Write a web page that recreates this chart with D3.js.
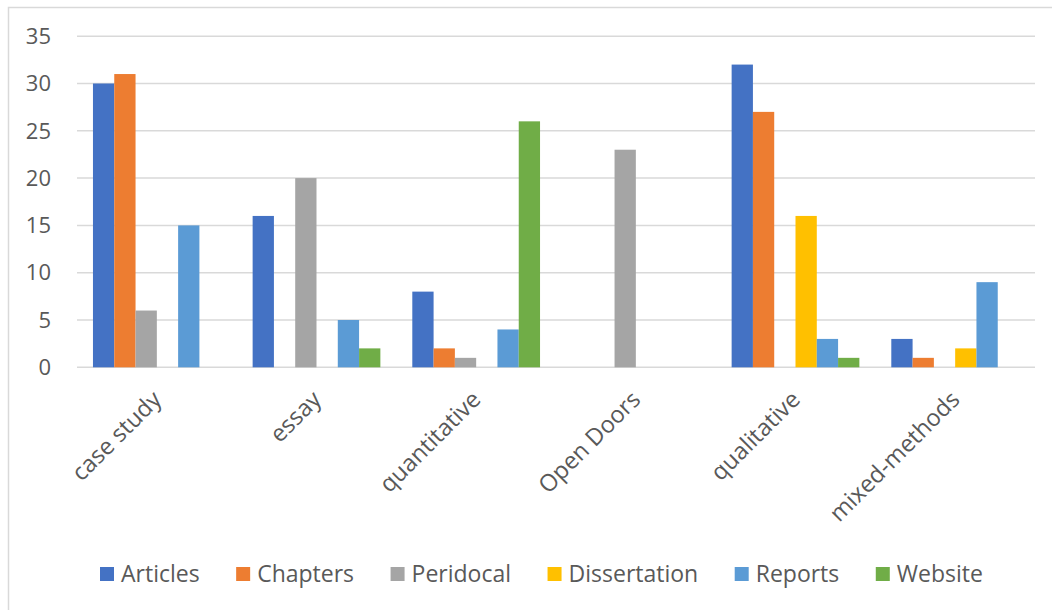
<!DOCTYPE html>
<html>
<head>
<meta charset="utf-8">
<title>Sources by method</title>
<style>
  body { margin: 0; background: #fff; }
  text { font-family: "Open Sans", "Noto Sans", sans-serif; fill: #595959; }
</style>
</head>
<body>
<main></main>
<script src="https://cdn.jsdelivr.net/npm/d3@7"></script>
<script>
    // data
    var categories = ["case study", "essay", "quantitative", "Open Doors", "qualitative", "mixed-methods"];
    var seriesNames = ["Articles", "Chapters", "Peridocal", "Dissertation", "Reports", "Website"];
    var seriesColors = ["#4472C4", "#ED7D31", "#A5A5A5", "#FFC000", "#5B9BD5", "#70AD47"];
    var articles     = [30, 16, 8, 0, 32, 3];
    var chapters     = [31, 0, 2, 0, 27, 1];
    var peridocal    = [6, 20, 1, 23, 0, 0];
    var dissertation = [0, 0, 0, 0, 16, 2];
    var reports      = [15, 5, 4, 0, 3, 9];
    var website      = [0, 2, 26, 0, 1, 0];
    var yTicks = [0, 5, 10, 15, 20, 25, 30, 35];

    var seriesValues = [articles, chapters, peridocal, dissertation, reports, website];

    var width = 1052, height = 610;
    var svg = d3.select("main").append("svg")
        .attr("width", width).attr("height", height);

    // chart border (only left and top show)
    svg.append("path")
        .attr("d", "M8.5,610V7.5H1052")
        .attr("fill", "none")
        .attr("stroke", "#d9d9d9")
        .attr("stroke-width", 1.5);

    var plotLeft = 77, plotRight = 1035, plotTop = 36.2, plotBottom = 367.3;

    var y = d3.scaleLinear().domain([0, 35]).range([plotBottom, plotTop]);
    var x0 = d3.scaleBand().domain(categories).range([plotLeft, plotRight]).padding(0);
    var x1 = d3.scaleBand().domain(seriesNames).range([0, x0.bandwidth()])
        .paddingInner(0).paddingOuter(0.75);

    // gridlines
    svg.append("g").selectAll("line")
        .data(yTicks)
        .enter().append("line")
        .attr("x1", plotLeft).attr("x2", plotRight)
        .attr("y1", function (d) { return y(d); })
        .attr("y2", function (d) { return y(d); })
        .attr("stroke", "#d9d9d9")
        .attr("stroke-width", 1.5);

    // y tick labels
    svg.append("g").selectAll("text")
        .data(yTicks)
        .enter().append("text")
        .attr("x", 51)
        .attr("y", function (d) { return y(d); })
        .attr("dy", "0.35em")
        .attr("text-anchor", "end")
        .style("font-size", "22px")
        .text(function (d) { return d; });

    // bars
    var groups = svg.append("g").selectAll("g")
        .data(categories)
        .enter().append("g")
        .attr("transform", function (d) { return "translate(" + x0(d) + ",0)"; });

    groups.selectAll("rect")
        .data(function (c, ci) {
            return seriesNames.map(function (s, si) {
                return { series: s, color: seriesColors[si], value: seriesValues[si][ci] };
            }).filter(function (d) { return d.value > 0; });
        })
        .enter().append("rect")
        .attr("x", function (d) { return x1(d.series); })
        .attr("width", x1.bandwidth())
        .attr("y", function (d) { return y(d.value); })
        .attr("height", function (d) { return y(0) - y(d.value); })
        .attr("fill", function (d) { return d.color; });

    // category labels, rotated
    svg.append("g").selectAll("text")
        .data(categories)
        .enter().append("text")
        .attr("text-anchor", "end")
        .attr("transform", function (d) {
            var cx = x0(d) + x0.bandwidth() / 2 + 6;
            return "translate(" + cx + ",401) rotate(-45)";
        })
        .style("font-size", "23.5px")
        .text(function (d) { return d; });

    // legend
    var legend = svg.append("g").attr("transform", "translate(0,574)");
    var lx = 100;
    seriesNames.forEach(function (name, i) {
        legend.append("rect")
            .attr("x", lx).attr("y", -7)
            .attr("width", 14).attr("height", 14)
            .attr("fill", seriesColors[i]);
        var t = legend.append("text")
            .attr("x", lx + 21).attr("y", 0)
            .attr("dy", "0.35em")
            .style("font-size", "23px")
            .text(name);
        lx += 21 + t.node().getComputedTextLength() + 36.5;
    });
</script>
</body>
</html>
